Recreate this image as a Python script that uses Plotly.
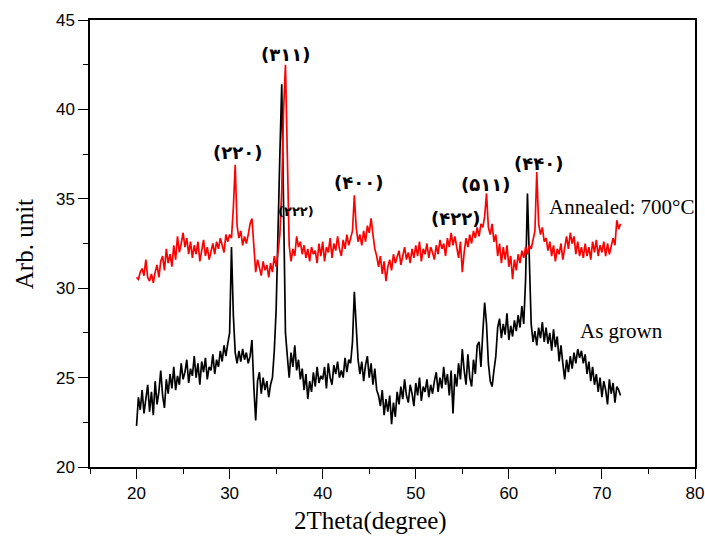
import numpy as np
import plotly.graph_objects as go

two_theta_start = 20.0
two_theta_end = 72.0

as_grown = [
    22.3, 23.9, 23.2, 24.3, 23.0, 23.8, 24.6, 23.1, 24.2, 22.9,
    24.8, 23.5, 24.2, 25.4, 24.0, 23.3, 24.9, 24.1, 25.2, 24.4,
    25.6, 24.3, 25.1, 24.6, 25.8, 24.9, 25.3, 26.0, 24.7, 25.5,
    25.1, 26.2, 25.0, 25.8, 24.6, 25.9, 25.3, 26.1, 24.9, 25.6,
    25.4, 26.3, 25.2, 26.0, 25.6, 26.5, 25.9, 26.8, 26.2, 26.9,
    27.5, 32.3, 28.5, 26.4, 25.8, 26.5, 25.9, 26.6, 26.0, 26.4,
    25.8, 26.2, 27.1, 24.5, 22.6, 24.8, 25.3, 24.1, 25.0, 24.3,
    24.8, 23.9, 24.6, 25.0, 26.5, 28.8, 32.5, 37.5, 41.4, 35.0,
    27.5, 26.2, 25.0, 26.4, 25.6, 26.8, 25.4, 26.0, 24.9, 25.5,
    24.3, 25.2, 23.8, 24.8, 24.2, 25.3, 24.5, 25.6, 24.7, 25.1,
    24.9, 25.6, 24.4, 25.8, 25.0, 24.6, 25.7, 25.2, 25.9, 25.0,
    25.4, 25.0, 26.1, 25.3, 26.0, 25.8, 27.0, 29.8, 27.5, 26.0,
    25.2, 25.9, 24.8, 25.7, 26.2, 25.0, 25.8, 24.6, 25.5, 24.3,
    24.0, 23.4, 24.3, 22.9, 23.8, 23.1, 24.0, 22.4, 23.6, 22.8,
    24.2, 23.5, 24.5, 23.8, 24.9, 24.0, 23.6, 24.6, 24.1, 23.4,
    24.7, 24.0, 25.0, 23.7, 24.5, 24.2, 24.9, 23.9, 24.6, 24.1,
    24.8, 25.3, 24.2, 25.0, 24.4, 25.6, 24.6, 25.2, 24.0, 25.4,
    23.0, 25.2, 24.5, 25.8, 24.9, 26.6, 25.4, 24.6, 26.3, 25.0,
    24.5, 26.0, 25.2, 26.8, 27.0, 25.6, 27.5, 29.2, 28.0, 25.8,
    24.8, 24.5, 25.4, 26.2, 27.8, 28.3, 27.2, 28.0, 27.4, 28.6,
    27.1, 27.9, 27.3, 28.2, 27.6, 28.5, 27.8, 29.0, 28.0, 30.5,
    35.3, 31.0, 28.0, 27.0, 27.6, 26.8, 27.8, 27.2, 28.1, 27.0,
    27.8, 26.9, 27.5, 26.5, 27.7, 26.7, 27.3, 25.9, 26.8, 25.8,
    24.9, 26.0, 25.3, 26.2, 25.5, 26.4, 25.8, 26.6, 26.1, 26.5,
    25.8, 26.3, 25.2, 25.9, 24.8, 25.6, 24.6, 25.2, 24.2, 25.0,
    23.9, 24.8, 24.3, 23.5, 24.9, 24.1, 24.7, 23.6, 24.5, 24.3,
    24.0,
]

annealed_700 = [
    30.6, 30.5, 30.9, 31.1, 30.7, 31.6, 30.6, 30.4, 30.8, 30.3,
    30.9, 31.3, 30.6, 31.5, 31.8, 31.0, 32.2, 31.4, 31.9, 31.2,
    32.4, 31.6, 32.9, 32.0, 32.5, 33.1, 32.3, 32.8, 31.9, 32.6,
    31.7, 32.4, 31.9, 32.6, 31.5, 32.2, 32.7, 31.8, 32.3, 31.6,
    32.0, 32.5, 31.9, 32.6, 32.2, 32.8, 32.4, 32.0, 33.0, 32.6,
    33.0, 32.8, 34.5, 36.9, 33.5, 32.8, 33.2, 32.4, 32.9, 32.5,
    33.0, 33.6, 33.9, 32.4, 30.9, 31.6, 31.2, 30.7, 31.5, 31.0,
    31.3, 30.6, 31.4, 30.9, 31.8, 31.2, 32.0, 33.0, 35.5, 40.0,
    42.5, 37.0, 32.4, 31.5, 32.2, 31.8, 32.9, 32.3, 32.6, 31.9,
    32.4, 31.7, 32.2, 31.5, 32.3, 31.9, 32.1, 31.4, 32.5, 31.8,
    32.6, 31.5, 32.3, 32.0, 32.8, 31.7, 32.5, 32.1, 32.9, 32.2,
    31.8, 32.7, 32.2, 33.0, 32.4, 32.8, 33.2, 35.2, 33.4, 32.6,
    33.0, 32.4, 33.2, 32.6, 33.5, 33.1, 33.9, 33.0, 32.2, 31.8,
    31.2, 31.8, 30.8, 31.5, 30.4, 31.2, 31.6, 31.0, 31.9, 31.4,
    31.8, 32.1, 31.3, 31.9, 32.3, 31.6, 32.0, 31.4, 32.2, 31.7,
    32.4, 31.8, 32.6, 31.5, 32.2, 31.9, 32.5, 31.7, 32.3, 32.0,
    31.6, 32.4, 31.9, 32.7, 32.2, 32.5, 31.8, 32.8, 32.3, 33.1,
    32.4, 32.9, 32.2, 31.7, 32.6, 30.9, 32.0, 32.8, 32.3, 33.0,
    32.5, 33.2, 32.8, 33.4, 32.9, 33.6, 33.4, 34.0, 35.3, 33.4,
    33.0, 33.6, 32.6, 33.0, 31.8, 32.5, 31.4, 32.3, 31.6, 32.4,
    31.2, 31.8, 30.5, 31.6, 31.0, 31.9, 31.4, 32.1, 31.7, 32.3,
    31.9, 32.4, 32.2, 32.8, 33.2, 36.5, 33.6, 33.0, 33.4, 32.6,
    32.8, 32.1, 32.6, 31.8, 32.4, 31.5, 32.2, 31.9, 32.5, 31.6,
    32.4, 32.9, 32.2, 33.1, 32.5, 32.9, 31.9, 32.6, 31.8, 32.3,
    31.7, 32.5, 31.8, 32.3, 31.6, 32.6, 32.0, 32.7, 31.8, 32.4,
    32.0, 32.6, 31.8, 32.5, 31.9, 32.3, 32.8, 32.4, 33.8, 33.3,
    33.6,
]

peak_labels = ["(۲۲۰)", "(۳۱۱)", "(۲۲۲)", "(۴۰۰)", "(۴۲۲)", "(۵۱۱)", "(۴۴۰)"]
peak_label_x = [30.8, 35.95, 37.1, 43.8, 54.3, 57.5, 63.2]
peak_label_y = [37.6, 43.05, 34.3, 35.9, 33.9, 35.8, 37.0]
peak_label_size = [18, 18, 13, 18, 18, 18, 18]

x_ag = np.linspace(two_theta_start, two_theta_end, len(as_grown))
x_an = np.linspace(two_theta_start, two_theta_end, len(annealed_700))

fig = go.Figure()
fig.add_trace(go.Scatter(x=x_ag, y=as_grown, mode="lines",
                         line=dict(color="black", width=1.7), name="As grown"))
fig.add_trace(go.Scatter(x=x_an, y=annealed_700, mode="lines",
                         line=dict(color="#ff0000", width=1.7), name="Annealed: 700°C"))

for t, x, y, s in zip(peak_labels, peak_label_x, peak_label_y, peak_label_size):
    fig.add_annotation(x=x, y=y, text="<b>" + t + "</b>", showarrow=False,
                       font=dict(family="DejaVu Sans", size=s, color="black"))

fig.add_annotation(x=64.1, y=34.55, text="Annealed: 700°C", showarrow=False, xanchor="left",
                   font=dict(family="Liberation Serif", size=21, color="black"))
fig.add_annotation(x=67.4, y=27.6, text="As grown", showarrow=False, xanchor="left",
                   font=dict(family="Liberation Serif", size=21, color="black"))

# axis titles
fig.add_annotation(xref="paper", yref="paper", x=0.464, y=-0.121, text="2Theta(degree)",
                   showarrow=False, xanchor="center", yanchor="middle",
                   font=dict(family="Liberation Serif", size=25, color="black"))
fig.add_annotation(xref="paper", yref="paper", x=-0.107, y=0.499, text="Arb. unit",
                   showarrow=False, xanchor="center", yanchor="middle", textangle=-90,
                   font=dict(family="Liberation Serif", size=25, color="black"))

axis_common = dict(showline=True, linecolor="black", linewidth=1.5, mirror=True,
                   ticks="outside", ticklen=10, tickwidth=1.3, tickcolor="black",
                   showgrid=False, zeroline=False, automargin=False,
                   tickfont=dict(family="Liberation Sans", size=17, color="black"))

fig.update_xaxes(range=[15, 80], tick0=20, dtick=10, ticklabelstandoff=0,
                 minor=dict(ticks="outside", ticklen=5, tickcolor="black", dtick=5, tick0=15),
                 **axis_common)
fig.update_yaxes(range=[20, 45], tick0=20, dtick=5, ticklabelstandoff=0,
                 minor=dict(ticks="outside", ticklen=5, tickcolor="black", dtick=2.5, tick0=20),
                 **axis_common)

fig.update_layout(width=705, height=536, margin=dict(l=90, r=10, t=20, b=69),
                  plot_bgcolor="white", paper_bgcolor="white", showlegend=False)

fig.write_html("out.html", config={"displayModeBar": False},
               post_script="document.body.style.margin='0';document.body.style.overflow='hidden';")
